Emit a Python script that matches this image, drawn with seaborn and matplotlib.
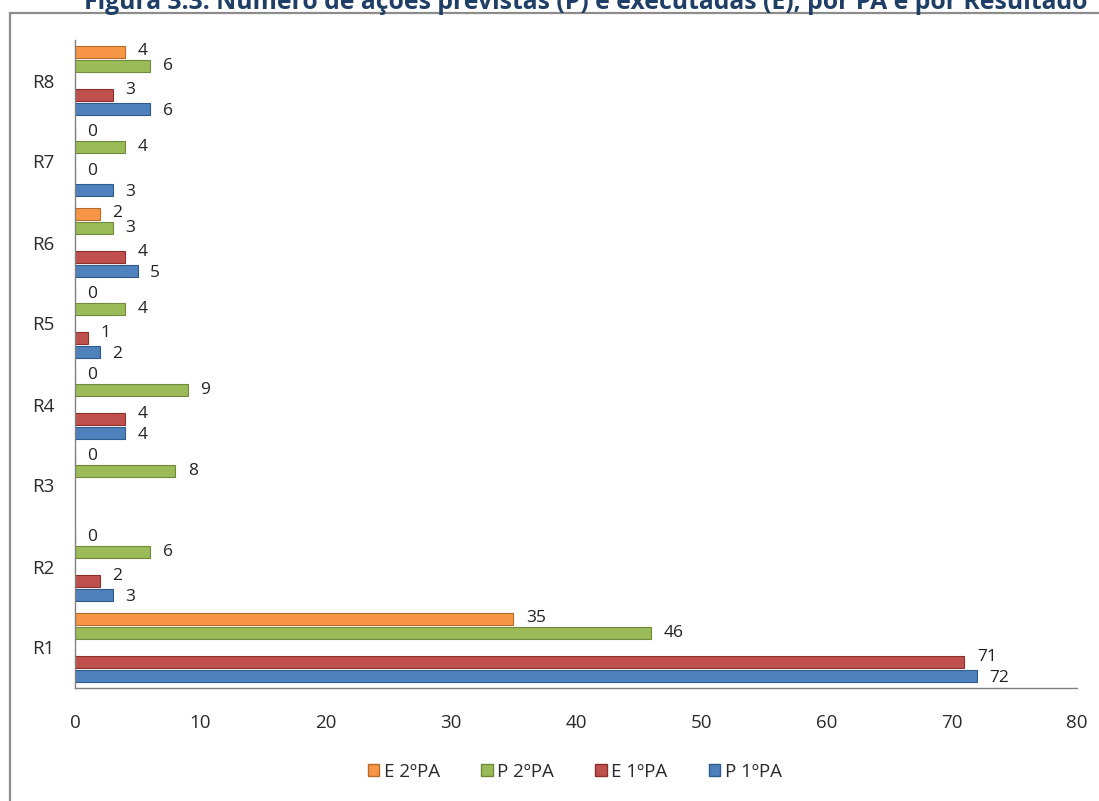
import numpy as np
import pandas as pd
import matplotlib
matplotlib.use("Agg")
import matplotlib.pyplot as plt
from matplotlib.patches import Rectangle, Patch
import seaborn as sns

# Results (categories), bottom to top
resultados = ["R1", "R2", "R3", "R4", "R5", "R6", "R7", "R8"]

# Number of actions per result (R3 has no 1ºPA entries)
p_1pa = [72, 3, np.nan, 4, 2, 5, 3, 6]
e_1pa = [71, 2, np.nan, 4, 1, 4, 0, 3]
p_2pa = [46, 6, 8, 9, 4, 3, 4, 6]
e_2pa = [35, 0, 0, 0, 0, 2, 0, 4]

series = {
    "E 2ºPA": e_2pa,
    "P 2ºPA": p_2pa,
    "E 1ºPA": e_1pa,
    "P 1ºPA": p_1pa,
}
colors = {
    "E 2ºPA": "#F79646",
    "P 2ºPA": "#9BBB59",
    "E 1ºPA": "#C0504D",
    "P 1ºPA": "#4F81BD",
}
edges = {
    "E 2ºPA": "#B86A2A",
    "P 2ºPA": "#6E8A3A",
    "E 1ºPA": "#8C2F2C",
    "P 1ºPA": "#2F5A8C",
}
# small vertical nudge of the value labels so adjacent ones stay apart
label_dy = {"E 2ºPA": 1, "P 2ºPA": 0, "E 1ºPA": 3, "P 1ºPA": -2}

title = "Figura 3.3: Número de ações previstas (P) e executadas (E), por PA e por Resultado"

# empty slot separating the two PA blocks inside each group
spacer = "_spacer"
hue_order = ["E 2ºPA", "P 2ºPA", spacer, "E 1ºPA", "P 1ºPA"]

rows = []
for name, vals in series.items():
    for r, v in zip(resultados, vals):
        if not np.isnan(v):
            rows.append({"Resultado": r, "Série": name, "Valor": float(v)})
for r in resultados:
    rows.append({"Resultado": r, "Série": spacer, "Valor": 0.0})
df = pd.DataFrame(rows)

sns.set_theme(style="white")
plt.rcParams["font.family"] = ["Open Sans", "DejaVu Sans"]

W, H = 1099, 801
fig = plt.figure(figsize=(W / 100, H / 100), dpi=100)
ax = fig.add_axes([75 / W, 113 / H, (1077 - 75) / W, (761 - 113) / H])

palette = dict(colors)
palette[spacer] = "#FFFFFF"

order = resultados[::-1]  # R8 at top
sns.barplot(
    data=df, y="Resultado", x="Valor", hue="Série",
    order=order, hue_order=hue_order, palette=palette,
    orient="h", width=0.87, gap=0.14, legend=False, ax=ax,
    errorbar=None, saturation=1,
)

for container, name in zip(ax.containers, hue_order):
    for bar in container:
        if bar is None:
            continue
        if name == spacer:
            bar.set_visible(False)
            continue
        bar.set_edgecolor(edges[name])
        bar.set_linewidth(0.8)
        val = bar.get_width()
        yc = bar.get_y() + bar.get_height() / 2
        ax.annotate(f"{val:.0f}", (val, yc), xytext=(9, label_dy[name]),
                    textcoords="offset points", ha="left", va="center",
                    fontsize=12.5, color="#222222")

ax.set_xlim(0, 80)
ax.set_xticks(range(0, 81, 10))
ax.set_xlabel("")
ax.set_ylabel("")
ax.tick_params(axis="x", labelsize=13.5, colors="#2A2A2A", length=0, pad=19)
ax.tick_params(axis="y", labelsize=13.5, colors="#2A2A2A", length=0, pad=15)
for s in ["top", "right"]:
    ax.spines[s].set_visible(False)
ax.spines["left"].set_color("#808080")
ax.spines["left"].set_linewidth(1.0)
ax.spines["bottom"].set_color("#808080")
ax.spines["bottom"].set_linewidth(1.0)

# legend
handles = [Patch(facecolor=colors[n], edgecolor=edges[n], label=n)
           for n in ["E 2ºPA", "P 2ºPA", "E 1ºPA", "P 1ºPA"]]
fig.legend(handles=handles, loc="center", bbox_to_anchor=(575 / W, 1 - 772 / H),
           ncol=4, frameon=False, fontsize=13.5, handlelength=0.6,
           handleheight=0.6, handletextpad=0.25, columnspacing=2.2,
           labelcolor="#2A2A2A")

# chart frame and title
fig.patches.append(Rectangle((10 / W, -0.05), 1.2, (801 - 13) / H + 0.05,
                             transform=fig.transFigure, fill=False,
                             edgecolor="#8C8C8C", linewidth=1.6))
fig.text(586 / W, 1 - 9 / H, title, ha="center", va="baseline",
         fontsize=17.8, fontweight="bold", color="#1F3F66")

fig.savefig("out.png", dpi=100, facecolor="white")
